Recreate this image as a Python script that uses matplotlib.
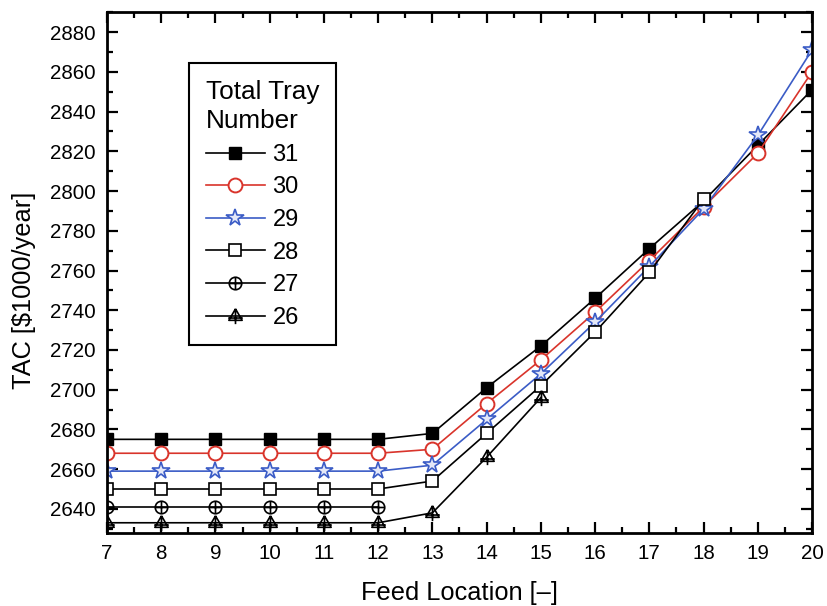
import matplotlib
matplotlib.use("Agg")
import matplotlib.pyplot as plt
from matplotlib.path import Path
from matplotlib.ticker import MultipleLocator

plt.rcParams["font.family"] = ["Liberation Sans", "DejaVu Sans"]

# data
feed_31 = [7, 8, 9, 10, 11, 12, 13, 14, 15, 16, 17, 18, 19, 20]
tac_31 = [2675, 2675, 2675, 2675, 2675, 2675, 2678, 2701, 2722, 2746, 2771, 2795, 2823, 2851]
feed_30 = [7, 8, 9, 10, 11, 12, 13, 14, 15, 16, 17, 18, 19, 20]
tac_30 = [2668, 2668, 2668, 2668, 2668, 2668, 2670, 2693, 2715, 2739, 2765, 2792, 2819, 2860]
feed_29 = [7, 8, 9, 10, 11, 12, 13, 14, 15, 16, 17, 18, 19, 20]
tac_29 = [2659, 2659, 2659, 2659, 2659, 2659, 2662, 2685, 2708, 2734, 2762, 2791, 2828, 2871]
feed_28 = [7, 8, 9, 10, 11, 12, 13, 14, 15, 16, 17, 18]
tac_28 = [2650, 2650, 2650, 2650, 2650, 2650, 2654, 2678, 2702, 2729, 2759, 2796]
feed_27 = [7, 8, 9, 10, 11, 12]
tac_27 = [2641, 2641, 2641, 2641, 2641, 2641]
feed_26 = [7, 8, 9, 10, 11, 12, 13, 14, 15]
tac_26 = [2633, 2633, 2633, 2633, 2633, 2633, 2638, 2666, 2696]

x_ticks = list(range(7, 21))
y_ticks = list(range(2640, 2881, 20))

# custom markers: circle with plus, triangle with plus
M, L = Path.MOVETO, Path.LINETO
circ = Path.unit_circle()
plus = Path([(-1, 0), (1, 0), (0, -1), (0, 1)], [M, L, M, L])
oplus = Path.make_compound_path(circ, plus)
tri = Path([(0, 1), (-0.87, -0.5), (0.87, -0.5), (0, 1)], [M, L, L, L])
tri_bars = Path([(0, 1), (0, -1.0), (-0.95, -0.2), (0.95, -0.2)], [M, L, M, L])
tri_plus = Path.make_compound_path(tri, tri_bars)

red = "#d9342b"
blue = "#3b5cc6"

fig = plt.figure(figsize=(8.27, 6.06), dpi=100)
ax = fig.add_axes([107 / 827, 1 - 532.7 / 606, 705 / 827, 520.4 / 606])

ax.plot(feed_31, tac_31, color="black", lw=1.2, marker="s", ms=8,
        mfc="black", mec="black", label="31")
ax.plot(feed_30, tac_30, color=red, lw=1.2, marker="o", ms=10,
        mfc="white", mec=red, mew=1.4, label="30")
ax.plot(feed_29, tac_29, color=blue, lw=1.2, marker="*", ms=13,
        mfc="#e4e8f8", mec=blue, mew=1.2, label="29")
ax.plot(feed_28, tac_28, color="black", lw=1.2, marker="s", ms=8,
        mfc="white", mec="black", mew=1.2, label="28")
ax.plot(feed_27, tac_27, color="black", lw=1.2, marker=oplus, ms=9,
        mfc="none", mec="black", mew=1.2, label="27")
ax.plot(feed_26, tac_26, color="black", lw=1.2, marker=tri_plus, ms=11,
        mfc="none", mec="black", mew=1.2, label="26")

ax.set_xlim(7, 20)
ax.set_ylim(2628, 2890)
ax.set_xticks(x_ticks)
ax.set_yticks(y_ticks)
ax.xaxis.set_minor_locator(MultipleLocator(0.5))
ax.yaxis.set_minor_locator(MultipleLocator(10))
ax.tick_params(which="both", direction="in", top=True, right=True, width=1.6,
               labelsize=14.8, pad=8)
ax.tick_params(which="major", length=8)
ax.tick_params(which="minor", length=4)
for s in ax.spines.values():
    s.set_linewidth(2)

ax.set_xlabel("Feed Location [–]", fontsize=18.3, labelpad=13)
ax.set_ylabel("TAC [$1000/year]", fontsize=18.3, labelpad=10)
ax.yaxis.label.set_y(0.466)

leg = ax.legend(title="Total Tray\nNumber", loc="upper left",
                bbox_to_anchor=(0.1163, 0.9026), fontsize=17,
                title_fontsize=18.8, alignment="left", fancybox=False,
                edgecolor="black", framealpha=1, handlelength=2.5,
                borderpad=0.7, labelspacing=0.45, handletextpad=0.34,
                borderaxespad=0)
leg.get_title().set_linespacing(1.3)
leg.get_frame().set_linewidth(1.5)

fig.savefig("out.png", dpi=100)
